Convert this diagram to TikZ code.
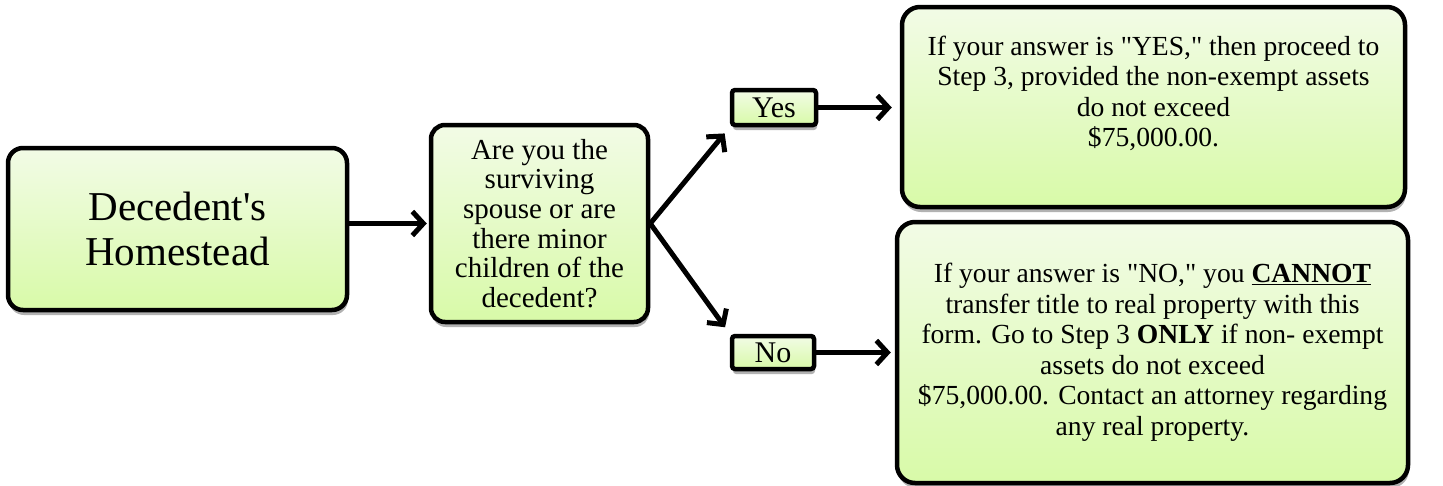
\documentclass[tikz,border=0pt]{standalone}
\usepackage{fontspec}
\setmainfont{Liberation Serif}[Ligatures=TeXOff]
\usetikzlibrary{arrows.meta,shadows}
\definecolor{boxtop}{RGB}{242,251,230}
\definecolor{boxbot}{RGB}{216,250,168}
\tikzset{
  box/.style={draw=black, line width=4.5pt, rounded corners=#1,
    top color=boxtop, bottom color=boxbot, align=center, inner sep=0pt,
    drop shadow={shadow xshift=1pt, shadow yshift=-5pt, opacity=0.3, fill=black}},
  box/.default=15pt,
  conn/.style={line width=5pt, -{Straight Barb[length=11pt,width=24pt,line width=5pt]}},
  bigtxt/.style={font=\fontsize{41}{45}\selectfont},
  qtxt/.style={font=\fontsize{29}{29.6}\selectfont},
  lbltxt/.style={font=\fontsize{30}{30}\selectfont},
  rtxt/.style={font=\fontsize{27.6}{30.5}\selectfont},
}
\begin{document}
\begin{tikzpicture}[x=1pt,y=-1pt]
\useasboundingbox (0,0) rectangle (1443,485);
\node[box, bigtxt, minimum width=339pt, minimum height=162pt] (home) at (177.5,229)
  {Decedent's\\Homestead};
\node[box=14pt, qtxt, minimum width=217pt, minimum height=197pt] (q) at (539.5,223.5)
  {Are you the\\surviving\\spouse or are\\there minor\\children of the\\decedent?};
\node[box=3pt, lbltxt, minimum width=84pt, minimum height=35pt] (yes) at (774,107.5) {Yes};
\node[box=3pt, lbltxt, minimum width=82pt, minimum height=33pt] (no) at (773,352.5) {No};
\node[box=18pt, rtxt, minimum width=503pt, minimum height=200pt] (ryes) at (1153.5,107)
  {If your answer is "YES," then proceed to\\Step 3, provided the non-exempt assets\\do not exceed\\\$75,000.00.\\[-8pt]\strut};
\node[box=18pt, rtxt, minimum width=511pt, minimum height=261pt] (rno) at (1152.5,352.5)
  {If your answer is "NO," you \underline{\textbf{CANNOT}}\\transfer title to real property with this\\form. Go to Step 3 \textbf{ONLY} if non- exempt\\assets do not exceed\\\$75,000.00. Contact an attorney regarding\\any real property.};
\draw[conn, shorten >=2pt] (q.west -| home.east) -- (q.west);
\draw[conn, shorten >=8pt] (q.east) -- (yes.south west);
\draw[conn, shorten >=8pt] (q.east) -- (no.north west);
\draw[conn, shorten >=8pt] (yes.east) -- (yes.east -| ryes.west);
\draw[conn, shorten >=4pt] (no.east) -- (no.east -| rno.west);
\end{tikzpicture}
\end{document}
